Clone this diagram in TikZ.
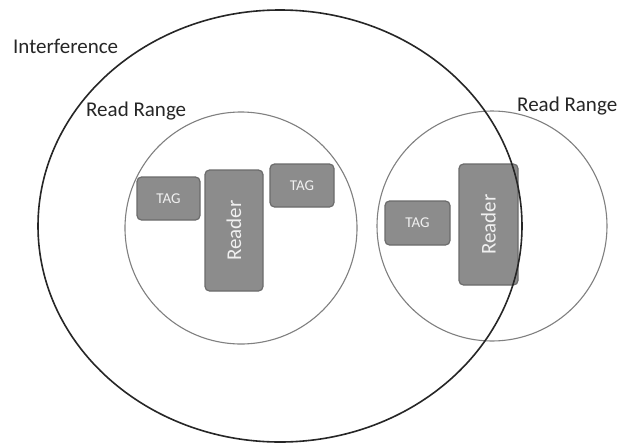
\documentclass[tikz,border=0pt]{standalone}
\usepackage{fontspec}
\setmainfont{Carlito}
\begin{document}
\begin{tikzpicture}[x=1pt,y=-1pt,
  lbl/.style={anchor=base west, inner sep=0pt, text=black!85, font=\fontsize{21}{25}\selectfont},
  rangecirc/.style={draw=black!50, line width=1.1pt},
  interf/.style={draw=black!85, line width=1.6pt},
  dev/.style={draw=black!58, fill=black!45, line width=1.2pt, rounded corners=4.5pt, inner sep=0pt, text=black!6},
  tagbox/.style={dev, minimum width=63pt, minimum height=43pt, font=\fontsize{15}{18}\selectfont},
  readerbox/.style={dev, minimum width=58pt, minimum height=121pt},
  readertext/.style={rotate=90, inner sep=0pt, text=black!6, font=\fontsize{21}{25}\selectfont}]
\useasboundingbox (0,0) rectangle (621,445);
\fill[white] (0,0) rectangle (621,445);
% read range circles
\draw[rangecirc] (241,228) circle [radius=116];
\draw[rangecirc] (492,226) circle [radius=115];
% devices
\node[tagbox] (tag1) at (168.5,198.5) {TAG};
\node[readerbox] (reader1) at (234,230.5) {};
\node[readertext] (reader1t) at (reader1.center) {Reader};
\node[tagbox, minimum width=64pt] (tag2) at (302,185.5) {TAG};
\node[tagbox, minimum width=65pt, minimum height=44pt] (tag3) at (417.5,223) {TAG};
\node[readerbox, minimum width=59pt] (reader2) at (488.5,224.5) {};
\node[readertext] (reader2t) at (reader2.center) {Reader};
% interference ellipse
\draw[interf] (280,226) ellipse [x radius=242, y radius=216];
% labels
\node[lbl] (interference) at (13,53) {Interference};
\node[lbl] (rangeL) at (86,116) {Read Range};
\node[lbl] (rangeR) at (517,111) {Read Range};
\end{tikzpicture}
\end{document}
